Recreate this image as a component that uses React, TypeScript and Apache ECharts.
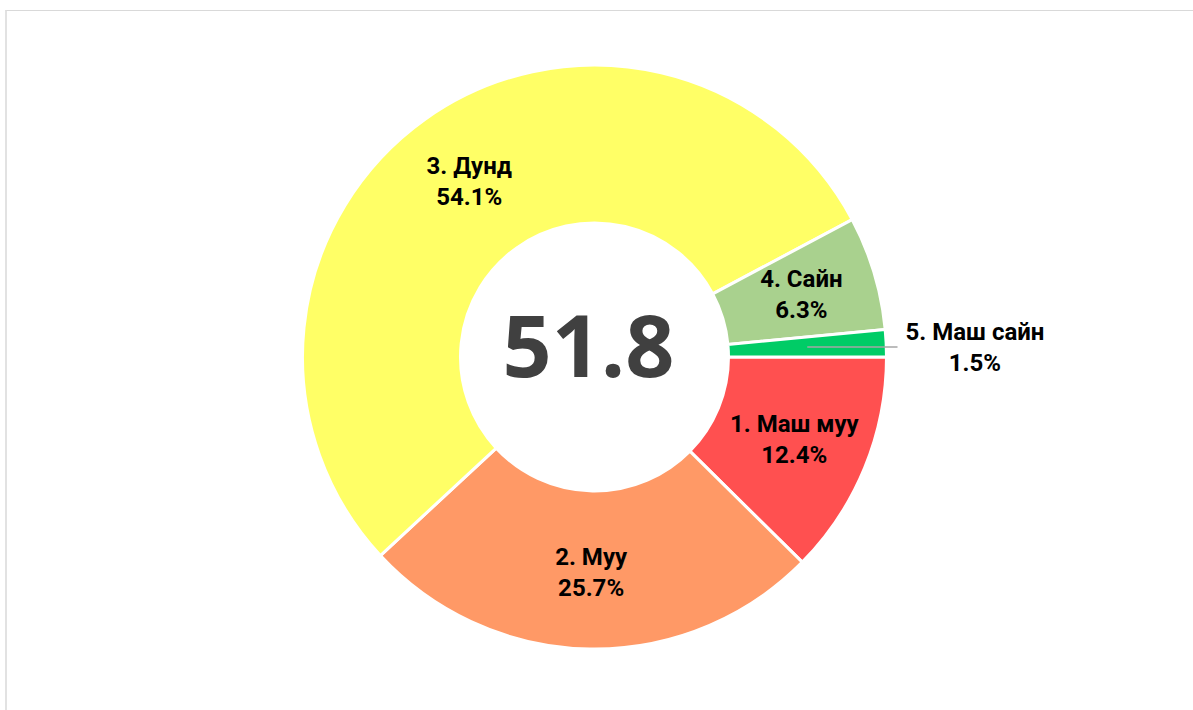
import React, { useEffect, useRef } from "react";
import * as echarts from "echarts";

const categories = ["1. Маш муу", "2. Муу", "3. Дунд", "4. Сайн", "5. Маш сайн"];
const shares = [12.4, 25.7, 54.1, 6.3, 1.5];
const sliceColors = ["#FF5050", "#FF9966", "#FFFF66", "#A9D18E", "#00CC66"];
const centerValue = "51.8";

const W = 1193;
const H = 710;
const CX = 594.5;
const CY = 357;
const R0 = 134;
const R1 = 292;

export default function App() {
  const ref = useRef<HTMLDivElement>(null);
  useEffect(() => {
    if (!ref.current) return;
    const chart = echarts.init(ref.current, null, { renderer: "svg" });
    const total = shares.reduce((a, b) => a + b, 0);
    const midAngle = (i: number) => {
      let before = 0;
      for (let k = 0; k < i; k++) before += shares[k];
      return ((before + shares[i] / 2) / total) * Math.PI * 2;
    };
    const outsideIndex = 4;
    const a = midAngle(outsideIndex);
    const rm = (R0 + R1) / 2;
    const sx = CX + rm * Math.cos(a);
    const sy = CY + rm * Math.sin(a);
    const ex = CX + R1 + 11;
    chart.setOption({
      animation: false,
      graphic: [
        {
          type: "text",
          x: CX - 6,
          y: CY - 14,
          z: 50,
          style: {
            text: centerValue,
            fill: "#404040",
            fontSize: 86,
            fontWeight: "bold",
            fontFamily: "Open Sans",
            textAlign: "center",
            textVerticalAlign: "middle",
          },
        },
        {
          type: "line",
          z: 50,
          shape: { x1: sx, y1: sy, x2: ex, y2: sy },
          style: { stroke: "#A6A6A6", lineWidth: 1.5 },
        },
      ],
      series: [
        {
          type: "pie",
          center: [CX, CY],
          radius: [R0, R1],
          startAngle: 0,
          clockwise: true,
          avoidLabelOverlap: false,
          itemStyle: { borderColor: "#ffffff", borderWidth: 3 },
          label: {
            show: true,
            position: "inside",
            color: "#000000",
            fontFamily: "Roboto",
            fontWeight: "bold",
            fontSize: 24,
            lineHeight: 31,
            align: "center",
            formatter: (p: any) => `${p.name}\n${Number(p.value).toFixed(1)}%`,
          },
          labelLine: { show: false },
          labelLayout: (params: any) => {
            if (params.dataIndex !== outsideIndex) return {};
            const lw = params.labelRect.width;
            return {
              x: ex + 8 + lw / 2,
              y: sy + 1,
              align: "center",
              verticalAlign: "middle",
            };
          },
          data: categories.map((name, i) => {
            const item: any = { name, value: shares[i], itemStyle: { color: sliceColors[i] } };
            if (i === outsideIndex) {
              item.label = { position: "outside" };
              item.labelLine = { show: false };
            }
            return item;
          }),
        },
      ],
    });
    return () => chart.dispose();
  }, []);
  return (
    <div style={{ position: "fixed", left: 0, top: 0, width: W, height: H, overflow: "hidden", background: "#fff" }}>
      <div
        style={{
          position: "absolute",
          left: 5,
          top: 10,
          width: W + 50,
          height: H + 50,
          borderTop: "1px solid #d9d9d9",
          borderLeft: "2px solid #e2e2e2",
        }}
      />
      <div ref={ref} style={{ position: "absolute", left: 0, top: 0, width: W, height: H }} />
    </div>
  );
}
